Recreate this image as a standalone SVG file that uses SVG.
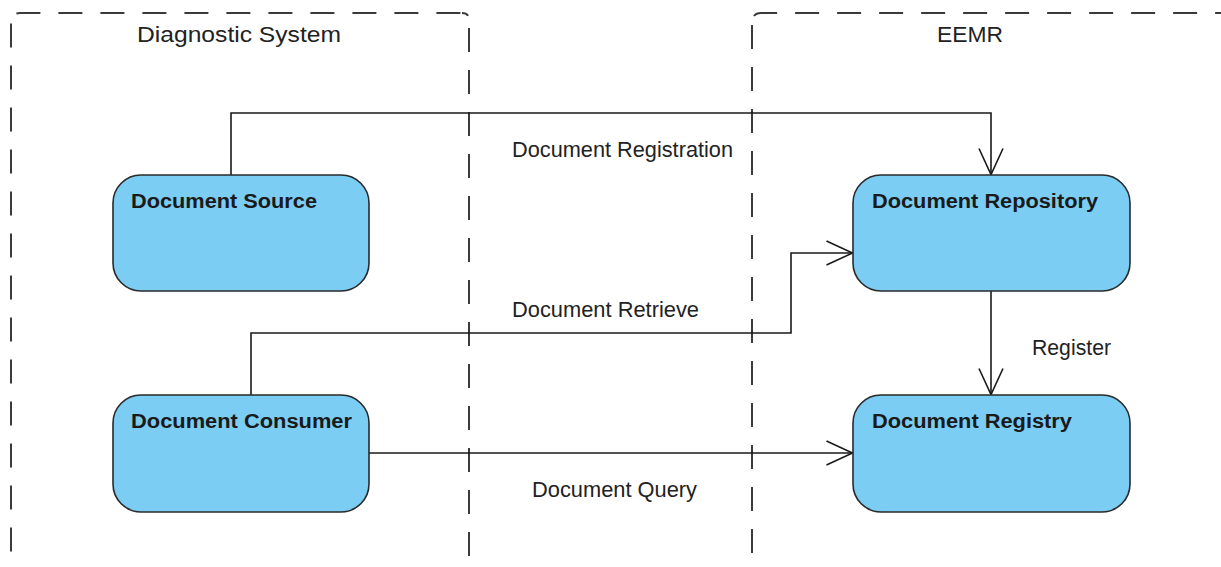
<svg xmlns="http://www.w3.org/2000/svg" width="1221" height="567" viewBox="0 0 1221 567">
  <style>
    .lane { fill: none; stroke: #3a3a3a; stroke-width: 2; stroke-dasharray: 24 18; }
    .lanelabel { font-family: "Liberation Sans", Arial, sans-serif; font-size: 22px; fill: #222; }
    .node rect { fill: #7bcdf3; stroke: #2a2a2a; stroke-width: 1.6; }
    .node text { font-family: "Liberation Sans", Arial, sans-serif; font-size: 20px; font-weight: bold; fill: #1a1a1a; }
    .conn path { fill: none; stroke: #1a1a1a; stroke-width: 1.6; marker-end: url(#arrow); }
    .conn .plain { marker-end: none; }
    .label { font-family: "Liberation Sans", Arial, sans-serif; font-size: 22px; fill: #222; }
  </style>
  <defs>
    <marker id="arrow" markerUnits="userSpaceOnUse" orient="auto" markerWidth="40" markerHeight="40" refX="0" refY="0" viewBox="-30 -20 40 40" overflow="visible">
      <path d="M -26 -12 L 0 0 L -26 12" fill="none" stroke="#1a1a1a" stroke-width="1.6"/>
    </marker>
  </defs>
  <rect x="0" y="0" width="1221" height="567" fill="#ffffff"/>

  <g id="lane-diagnostic">
    <line class="lane" x1="11" y1="23.5" x2="11" y2="567"/>
    <path class="lane" d="M 15 15 Q 16 13 20 13 H 462" style="stroke-dasharray: 24 18; stroke-dashoffset: -2"/>
    <line class="lane" x1="469" y1="28" x2="469" y2="567"/>
    <path class="lane" d="M 462 13 Q 469 13 469 20" style="stroke-dasharray: 7 100"/>
    <text class="lanelabel" x="137" y="42" textLength="204" lengthAdjust="spacingAndGlyphs">Diagnostic System</text>
  </g>

  <g id="lane-eemr">
    <line class="lane" x1="752" y1="25" x2="752" y2="567"/>
    <path class="lane" d="M 754 16 Q 756 13 761 13 H 1221"/>
    <text class="lanelabel" x="937" y="42" textLength="66" lengthAdjust="spacingAndGlyphs">EEMR</text>
  </g>

  <g id="connectors" class="conn">
    <path d="M 231 175 V 113 H 991 V 174.5"/>
    <path d="M 251 395 V 333 H 791 V 253 H 852.5"/>
    <path d="M 369 453 H 852.5"/>
    <path d="M 991 291 V 394.5"/>
    <text class="label" x="512" y="157" textLength="221" lengthAdjust="spacingAndGlyphs">Document Registration</text>
    <text class="label" x="512" y="317" textLength="187" lengthAdjust="spacingAndGlyphs">Document Retrieve</text>
    <text class="label" x="532" y="497" textLength="165" lengthAdjust="spacingAndGlyphs">Document Query</text>
    <text class="label" x="1032" y="355" textLength="79" lengthAdjust="spacingAndGlyphs">Register</text>
  </g>

  <g id="node-source" class="node">
    <rect x="113" y="175" width="256" height="116" rx="28" ry="28"/>
    <text x="131" y="208" textLength="186" lengthAdjust="spacingAndGlyphs">Document Source</text>
  </g>
  <g id="node-consumer" class="node">
    <rect x="113" y="395" width="256" height="117" rx="28" ry="28"/>
    <text x="131" y="428" textLength="221" lengthAdjust="spacingAndGlyphs">Document Consumer</text>
  </g>
  <g id="node-repository" class="node">
    <rect x="853" y="175" width="277" height="116" rx="28" ry="28"/>
    <text x="872" y="208" textLength="226" lengthAdjust="spacingAndGlyphs">Document Repository</text>
  </g>
  <g id="node-registry" class="node">
    <rect x="853" y="395" width="277" height="117" rx="28" ry="28"/>
    <text x="872" y="428" textLength="200" lengthAdjust="spacingAndGlyphs">Document Registry</text>
  </g>
</svg>
